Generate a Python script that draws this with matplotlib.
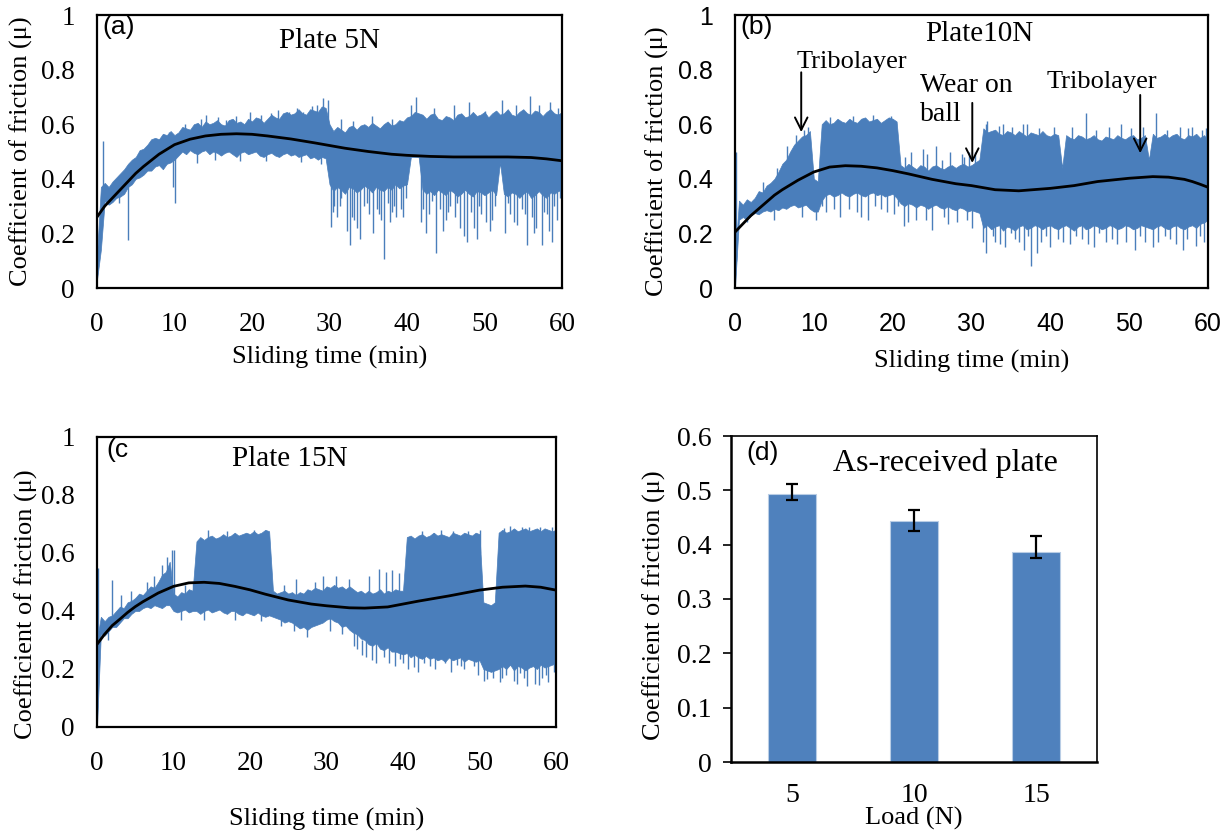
import matplotlib
matplotlib.use("Agg")
import matplotlib.pyplot as plt

W, H = 1231, 834
BLUE = "#4a7ebb"
BAR_BLUE = "#4f81bd"
SERIF = "Liberation Serif"
SANS = "Liberation Sans"
plt.rcParams["font.family"] = SERIF

# Friction traces are stored as the min / max of the signal in each
# half-minute bin (0, 0.5, ..., 60 min), plus isolated excursions.
t_bins = [i * 0.5 for i in range(121)]

# ---------------- (a) Plate 5 N ----------------
a_hi = [0.12, 0.37, 0.385, 0.37, 0.39, 0.405, 0.42, 0.435, 0.455, 0.47,
        0.48, 0.505, 0.51, 0.525, 0.545, 0.55, 0.545, 0.565, 0.56, 0.575,
        0.56, 0.57, 0.59, 0.585, 0.58, 0.60, 0.605, 0.59, 0.61, 0.60,
        0.605, 0.615, 0.60, 0.595, 0.615, 0.62, 0.605, 0.61, 0.60, 0.62,
        0.61, 0.625, 0.62, 0.605, 0.62, 0.635, 0.625, 0.62, 0.64, 0.645,
        0.635, 0.64, 0.655, 0.64, 0.635, 0.655, 0.65, 0.645, 0.665, 0.66,
        0.60, 0.575, 0.59, 0.58, 0.57, 0.59, 0.595, 0.58, 0.595, 0.60,
        0.59, 0.605, 0.595, 0.585, 0.60, 0.61, 0.595, 0.60, 0.615, 0.61,
        0.625, 0.63, 0.645, 0.64, 0.635, 0.62, 0.635, 0.64, 0.62, 0.615,
        0.63, 0.625, 0.615, 0.635, 0.64, 0.625, 0.63, 0.645, 0.63, 0.635,
        0.645, 0.625, 0.64, 0.65, 0.635, 0.64, 0.655, 0.635, 0.63, 0.645,
        0.655, 0.64, 0.635, 0.65, 0.645, 0.63, 0.645, 0.655, 0.64, 0.635,
        0.645]
a_lo = [0.03, 0.14, 0.32, 0.305, 0.315, 0.33, 0.335, 0.345, 0.37, 0.38,
        0.40, 0.405, 0.415, 0.43, 0.43, 0.445, 0.45, 0.435, 0.455, 0.46,
        0.47, 0.485, 0.50, 0.49, 0.505, 0.495, 0.49, 0.50, 0.505, 0.49,
        0.50, 0.495, 0.485, 0.495, 0.50, 0.49, 0.48, 0.495, 0.50, 0.49,
        0.495, 0.50, 0.485, 0.48, 0.49, 0.495, 0.485, 0.48, 0.49, 0.495,
        0.485, 0.49, 0.48, 0.485, 0.49, 0.475, 0.48, 0.47, 0.48, 0.475,
        0.38, 0.355, 0.37, 0.36, 0.345, 0.37, 0.365, 0.35, 0.36, 0.375,
        0.365, 0.35, 0.37, 0.36, 0.355, 0.37, 0.36, 0.38, 0.365, 0.375,
        0.38, 0.48, 0.48, 0.48, 0.36, 0.345, 0.355, 0.34, 0.36, 0.35,
        0.34, 0.36, 0.35, 0.335, 0.345, 0.36, 0.345, 0.335, 0.355, 0.35,
        0.34, 0.35, 0.36, 0.34, 0.46, 0.345, 0.335, 0.35, 0.345, 0.33,
        0.345, 0.355, 0.33, 0.34, 0.355, 0.34, 0.33, 0.35, 0.345, 0.355,
        0.36]
# (time, low, high) of isolated excursions
a_spikes = [
    (0.8, 0.30, 0.54), (2.8, 0.31, 0.38), (4.0, 0.175, 0.40), (9.3, 0.50, 0.57),
    (9.8, 0.37, 0.50), (10.1, 0.31, 0.50), (11.3, 0.55, 0.60), (12.9, 0.457, 0.52),
    (13.4, 0.55, 0.62), (14.1, 0.55, 0.633), (15.2, 0.47, 0.52), (15.6, 0.55, 0.625),
    (16.7, 0.55, 0.615), (17.9, 0.55, 0.63), (18.4, 0.465, 0.52), (19.7, 0.55, 0.646),
    (21.2, 0.55, 0.635), (21.8, 0.465, 0.52), (22.5, 0.55, 0.64), (23.4, 0.55, 0.652),
    (24.8, 0.55, 0.645), (25.8, 0.55, 0.66), (26.3, 0.46, 0.52), (26.6, 0.55, 0.646),
    (27.7, 0.55, 0.665), (28.4, 0.55, 0.67), (28.9, 0.455, 0.52),
    (29.2, 0.55, 0.695), (29.8, 0.55, 0.69),
    (30.2, 0.225, 0.5), (30.4, 0.28, 0.5), (30.6, 0.30, 0.5), (31.0, 0.26, 0.5),
    (31.3, 0.30, 0.5), (31.5, 0.33, 0.5), (32.2, 0.21, 0.5), (32.6, 0.157, 0.5),
    (32.9, 0.26, 0.5), (33.1, 0.25, 0.5), (33.5, 0.22, 0.5), (33.9, 0.18, 0.5),
    (34.5, 0.30, 0.5), (34.8, 0.31, 0.5), (35.1, 0.27, 0.5), (35.6, 0.20, 0.5),
    (36.1, 0.29, 0.5), (36.4, 0.27, 0.5), (36.6, 0.25, 0.5), (37.0, 0.108, 0.5),
    (37.5, 0.31, 0.5), (37.8, 0.24, 0.5), (38.0, 0.28, 0.5), (38.3, 0.30, 0.5),
    (38.6, 0.26, 0.5), (39.2, 0.29, 0.5), (39.5, 0.26, 0.5), (39.9, 0.33, 0.5),
    (41.8, 0.24, 0.5), (42.1, 0.29, 0.5), (42.4, 0.20, 0.5), (42.9, 0.27, 0.5),
    (43.2, 0.32, 0.5), (43.8, 0.127, 0.5), (44.3, 0.29, 0.5), (44.7, 0.21, 0.5),
    (45.0, 0.25, 0.5), (45.3, 0.28, 0.5), (45.6, 0.30, 0.5), (46.2, 0.26, 0.5),
    (46.5, 0.31, 0.5), (46.8, 0.22, 0.5), (47.4, 0.19, 0.5), (47.7, 0.17, 0.5),
    (48.3, 0.28, 0.5), (48.6, 0.22, 0.5), (49.0, 0.18, 0.5), (49.3, 0.30, 0.5),
    (49.6, 0.27, 0.5), (50.2, 0.24, 0.5), (50.7, 0.21, 0.5), (51.0, 0.25, 0.5),
    (51.3, 0.30, 0.5), (52.7, 0.20, 0.5), (53.0, 0.31, 0.5), (53.3, 0.27, 0.5),
    (53.8, 0.24, 0.5), (54.2, 0.23, 0.5), (54.8, 0.29, 0.5), (55.2, 0.27, 0.5),
    (55.5, 0.157, 0.5), (56.1, 0.26, 0.5), (56.4, 0.20, 0.5), (56.7, 0.22, 0.5),
    (57.4, 0.157, 0.5), (57.7, 0.28, 0.5), (58.0, 0.27, 0.5), (58.3, 0.21, 0.5),
    (58.7, 0.17, 0.5), (59.0, 0.30, 0.5), (59.3, 0.25, 0.5), (59.8, 0.33, 0.5),
    (31.5, 0.55, 0.62), (33.0, 0.55, 0.61), (35.5, 0.55, 0.63), (38.0, 0.55, 0.62),
    (40.5, 0.55, 0.67), (41.2, 0.55, 0.70), (43.5, 0.55, 0.66), (46.0, 0.55, 0.67),
    (48.0, 0.55, 0.68), (50.0, 0.55, 0.65), (52.3, 0.55, 0.69), (54.0, 0.55, 0.67),
    (55.9, 0.55, 0.705), (57.0, 0.55, 0.67), (58.5, 0.55, 0.68), (59.5, 0.55, 0.66),
]
a_fit_t = [0, 1, 2, 3, 4, 5, 6, 8, 10, 12, 14, 16, 18, 20, 22, 25, 28, 30, 32,
           35, 38, 40, 43, 46, 50, 53, 56, 58, 60]
a_fit_mu = [0.26, 0.30, 0.33, 0.36, 0.39, 0.42, 0.445, 0.49, 0.525, 0.545, 0.557,
            0.563, 0.565, 0.563, 0.557, 0.546, 0.532, 0.522, 0.512, 0.50, 0.49,
            0.486, 0.482, 0.48, 0.48, 0.48, 0.478, 0.473, 0.466]

# ---------------- (b) Plate 10 N ----------------
b_hi = [0.10, 0.32, 0.305, 0.325, 0.315, 0.33, 0.355, 0.35, 0.375, 0.385,
        0.40, 0.425, 0.455, 0.47, 0.50, 0.525, 0.54, 0.555, 0.56, 0.575,
        0.40, 0.39, 0.60, 0.615, 0.60, 0.605, 0.62, 0.61, 0.605, 0.62,
        0.61, 0.605, 0.62, 0.625, 0.61, 0.615, 0.62, 0.605, 0.615, 0.625,
        0.62, 0.61, 0.45, 0.44, 0.455, 0.445, 0.435, 0.45, 0.445, 0.43,
        0.445, 0.45, 0.44, 0.435, 0.445, 0.45, 0.44, 0.45, 0.455, 0.445,
        0.45, 0.46, 0.47, 0.585, 0.57, 0.575, 0.58, 0.565, 0.56, 0.575,
        0.57, 0.56, 0.575, 0.565, 0.555, 0.57, 0.565, 0.56, 0.575, 0.56,
        0.555, 0.565, 0.56, 0.44, 0.56, 0.55, 0.545, 0.56, 0.555, 0.545,
        0.55, 0.56, 0.545, 0.54, 0.555, 0.55, 0.545, 0.56, 0.55, 0.545,
        0.555, 0.56, 0.545, 0.55, 0.56, 0.47, 0.565, 0.55, 0.555, 0.565,
        0.55, 0.56, 0.565, 0.55, 0.545, 0.56, 0.555, 0.565, 0.55, 0.56,
        0.54]
b_lo = [0.0, 0.25, 0.26, 0.25, 0.265, 0.275, 0.27, 0.28, 0.285, 0.28,
        0.29, 0.285, 0.295, 0.29, 0.30, 0.305, 0.295, 0.30, 0.305, 0.29,
        0.28, 0.28, 0.32, 0.34, 0.345, 0.335, 0.34, 0.35, 0.34, 0.335,
        0.345, 0.35, 0.34, 0.335, 0.345, 0.35, 0.34, 0.345, 0.335, 0.34,
        0.345, 0.33, 0.31, 0.30, 0.31, 0.305, 0.295, 0.305, 0.30, 0.29,
        0.30, 0.305, 0.295, 0.29, 0.30, 0.29, 0.285, 0.295, 0.29, 0.28,
        0.285, 0.28, 0.275, 0.22, 0.23, 0.215, 0.225, 0.23, 0.21, 0.225,
        0.22, 0.21, 0.225, 0.23, 0.215, 0.22, 0.23, 0.225, 0.215, 0.225,
        0.23, 0.22, 0.215, 0.225, 0.23, 0.22, 0.21, 0.225, 0.23, 0.215,
        0.22, 0.23, 0.225, 0.215, 0.22, 0.23, 0.225, 0.215, 0.22, 0.23,
        0.225, 0.215, 0.22, 0.23, 0.225, 0.22, 0.215, 0.225, 0.23, 0.22,
        0.215, 0.225, 0.23, 0.22, 0.215, 0.225, 0.23, 0.22, 0.235, 0.24,
        0.25]
b_spikes = [
    (0.15, 0.10, 0.50), (1.5, 0.24, 0.30), (3.5, 0.30, 0.39), (5.0, 0.25, 0.32),
    (5.3, 0.35, 0.44), (6.6, 0.40, 0.52), (7.7, 0.45, 0.56), (8.5, 0.26, 0.35),
    (8.7, 0.50, 0.58), (9.3, 0.50, 0.59), (10.3, 0.25, 0.32), (11.0, 0.30, 0.38),
    (11.5, 0.28, 0.38), (12.0, 0.55, 0.625), (12.6, 0.29, 0.38),
    (13.3, 0.26, 0.38), (14.5, 0.29, 0.38), (15.0, 0.55, 0.63),
    (15.5, 0.28, 0.38), (16.0, 0.26, 0.38), (16.9, 0.25, 0.38),
    (17.5, 0.55, 0.635), (17.8, 0.30, 0.38), (18.5, 0.29, 0.38),
    (19.3, 0.28, 0.38), (19.8, 0.55, 0.63), (20.2, 0.27, 0.38),
    (20.7, 0.30, 0.38), (21.5, 0.226, 0.33), (21.6, 0.40, 0.48),
    (22.0, 0.24, 0.33), (22.3, 0.40, 0.50), (23.0, 0.25, 0.33),
    (23.8, 0.40, 0.51), (24.2, 0.25, 0.33), (24.4, 0.40, 0.49),
    (25.0, 0.214, 0.33), (25.5, 0.40, 0.52), (26.2, 0.40, 0.47),
    (26.5, 0.26, 0.33), (27.0, 0.235, 0.33), (27.3, 0.40, 0.50),
    (28.2, 0.24, 0.33), (28.8, 0.40, 0.49), (29.0, 0.40, 0.48),
    (29.4, 0.25, 0.33), (29.7, 0.40, 0.50), (30.0, 0.22, 0.32),
    (30.5, 0.40, 0.50), (31.5, 0.17, 0.3), (31.8, 0.50, 0.60),
    (31.9, 0.13, 0.3), (32.0, 0.50, 0.61), (32.7, 0.19, 0.3), (33.0, 0.17, 0.3),
    (33.5, 0.50, 0.595), (33.6, 0.16, 0.3), (34.0, 0.50, 0.60),
    (34.3, 0.15, 0.3), (35.0, 0.20, 0.3), (35.2, 0.50, 0.59), (35.5, 0.18, 0.3),
    (36.0, 0.17, 0.3), (36.5, 0.50, 0.60), (36.6, 0.14, 0.3), (37.0, 0.50, 0.60),
    (37.2, 0.19, 0.3), (37.6, 0.08, 0.3), (38.3, 0.13, 0.3), (38.5, 0.50, 0.585),
    (38.8, 0.17, 0.3), (39.4, 0.19, 0.3), (40.0, 0.15, 0.3), (40.5, 0.50, 0.59),
    (41.0, 0.18, 0.3), (41.6, 0.17, 0.3), (42.5, 0.16, 0.3), (42.8, 0.50, 0.59),
    (43.3, 0.19, 0.3), (44.0, 0.18, 0.3), (44.5, 0.50, 0.64), (44.8, 0.16, 0.3),
    (45.5, 0.15, 0.3), (45.8, 0.50, 0.58), (46.2, 0.20, 0.3), (47.0, 0.17, 0.3),
    (47.5, 0.50, 0.59), (47.8, 0.18, 0.3), (48.5, 0.16, 0.3), (49.0, 0.50, 0.60),
    (49.6, 0.17, 0.3), (50.2, 0.50, 0.585), (50.8, 0.14, 0.3), (51.4, 0.19, 0.3),
    (51.8, 0.50, 0.59), (52.0, 0.17, 0.3), (53.0, 0.15, 0.3), (53.4, 0.50, 0.64),
    (53.7, 0.17, 0.3), (54.5, 0.19, 0.3), (54.8, 0.50, 0.58), (55.2, 0.18, 0.3),
    (56.0, 0.16, 0.3), (56.5, 0.50, 0.59), (56.8, 0.14, 0.3), (57.3, 0.18, 0.3),
    (57.5, 0.50, 0.585), (58.0, 0.50, 0.59), (58.5, 0.155, 0.3),
    (59.0, 0.19, 0.3), (59.2, 0.50, 0.58), (59.5, 0.17, 0.3), (59.7, 0.50, 0.585),
]
b_fit_t = [0, 1, 2, 3, 4, 5, 6, 8, 10, 12, 14, 16, 18, 20, 22, 25, 28, 30, 33,
           36, 40, 43, 46, 50, 53, 55, 57, 58, 59, 60]
b_fit_mu = [0.205, 0.235, 0.265, 0.29, 0.315, 0.34, 0.36, 0.395, 0.425, 0.443,
            0.448, 0.446, 0.44, 0.43, 0.418, 0.398, 0.382, 0.375, 0.36, 0.356,
            0.365, 0.375, 0.39, 0.402, 0.408, 0.406, 0.398, 0.39, 0.38, 0.369]

# ---------------- (c) Plate 15 N ----------------
c_hi = [0.30, 0.38, 0.365, 0.38, 0.385, 0.40, 0.415, 0.41, 0.43, 0.435,
        0.445, 0.46, 0.455, 0.47, 0.485, 0.48, 0.50, 0.525, 0.535, 0.57,
        0.46, 0.45, 0.465, 0.46, 0.475, 0.47, 0.64, 0.655, 0.645, 0.655,
        0.66, 0.65, 0.655, 0.665, 0.655, 0.66, 0.67, 0.66, 0.665, 0.67,
        0.665, 0.675, 0.665, 0.67, 0.68, 0.675, 0.47, 0.46, 0.465, 0.47,
        0.46, 0.465, 0.455, 0.465, 0.46, 0.475, 0.47, 0.48, 0.475, 0.47,
        0.485, 0.48, 0.49, 0.48, 0.485, 0.475, 0.485, 0.475, 0.465, 0.47,
        0.46, 0.47, 0.46, 0.465, 0.475, 0.46, 0.47, 0.465, 0.475, 0.47,
        0.47, 0.655, 0.66, 0.65, 0.66, 0.665, 0.655, 0.66, 0.67, 0.66,
        0.665, 0.66, 0.655, 0.67, 0.665, 0.66, 0.67, 0.665, 0.66, 0.67,
        0.665, 0.43, 0.425, 0.42, 0.43, 0.67, 0.68, 0.67, 0.675, 0.685,
        0.675, 0.68, 0.685, 0.675, 0.68, 0.685, 0.675, 0.685, 0.68, 0.675,
        0.68]
c_lo = [0.0, 0.32, 0.315, 0.33, 0.345, 0.345, 0.36, 0.375, 0.375, 0.39,
        0.40, 0.40, 0.41, 0.415, 0.41, 0.42, 0.415, 0.41, 0.42, 0.42,
        0.40, 0.395, 0.40, 0.405, 0.395, 0.40, 0.40, 0.39, 0.40, 0.405,
        0.395, 0.40, 0.405, 0.395, 0.39, 0.40, 0.40, 0.39, 0.385, 0.395,
        0.39, 0.385, 0.395, 0.385, 0.38, 0.385, 0.38, 0.375, 0.37, 0.36,
        0.365, 0.36, 0.35, 0.34, 0.345, 0.335, 0.345, 0.35, 0.355, 0.36,
        0.37, 0.375, 0.365, 0.36, 0.345, 0.35, 0.335, 0.325, 0.32, 0.305,
        0.30, 0.285, 0.28, 0.29, 0.27, 0.265, 0.275, 0.26, 0.26, 0.255,
        0.25, 0.255, 0.24, 0.25, 0.24, 0.235, 0.245, 0.235, 0.24, 0.23,
        0.235, 0.225, 0.24, 0.23, 0.235, 0.24, 0.225, 0.235, 0.23, 0.225,
        0.23, 0.20, 0.195, 0.19, 0.195, 0.20, 0.21, 0.20, 0.215, 0.195,
        0.21, 0.205, 0.195, 0.205, 0.21, 0.20, 0.215, 0.205, 0.21, 0.215,
        0.22]
c_spikes = [
    (0.1, 0.30, 0.547), (1.5, 0.30, 0.34), (2.0, 0.38, 0.506), (3.2, 0.40, 0.455),
    (4.5, 0.42, 0.47), (6.5, 0.45, 0.50), (7.5, 0.46, 0.52), (8.5, 0.50, 0.56),
    (9.2, 0.52, 0.585), (9.8, 0.44, 0.612), (10.1, 0.44, 0.61), (11.0, 0.37, 0.41),
    (11.5, 0.45, 0.49), (12.5, 0.45, 0.50), (14.0, 0.37, 0.41), (14.5, 0.60, 0.68),
    (17.0, 0.60, 0.675), (18.0, 0.37, 0.41), (20.5, 0.60, 0.68), (21.5, 0.365, 0.40),
    (24.0, 0.35, 0.39), (24.5, 0.45, 0.49), (25.8, 0.33, 0.38), (26.0, 0.45, 0.51),
    (27.5, 0.311, 0.37), (28.5, 0.45, 0.50), (29.6, 0.45, 0.52), (30.5, 0.33, 0.38),
    (31.2, 0.46, 0.52), (32.0, 0.32, 0.36), (33.0, 0.45, 0.51), (33.6, 0.28, 0.33),
    (34.0, 0.27, 0.33), (34.6, 0.25, 0.3), (35.2, 0.24, 0.3), (35.5, 0.45, 0.52),
    (36.0, 0.23, 0.3), (36.5, 0.22, 0.3), (36.8, 0.45, 0.545), (37.5, 0.24, 0.3),
    (37.8, 0.45, 0.535), (38.2, 0.22, 0.3), (38.6, 0.45, 0.54), (39.0, 0.21, 0.3),
    (39.5, 0.45, 0.53), (39.6, 0.235, 0.3), (40.0, 0.22, 0.3), (40.6, 0.20, 0.3),
    (41.4, 0.208, 0.3), (42.0, 0.19, 0.3), (42.5, 0.60, 0.675), (42.8, 0.22, 0.3),
    (43.5, 0.21, 0.3), (44.0, 0.60, 0.67), (44.2, 0.20, 0.3), (45.0, 0.60, 0.68),
    (45.5, 0.22, 0.3), (46.3, 0.19, 0.3), (46.5, 0.60, 0.675), (47.0, 0.215, 0.3),
    (47.6, 0.21, 0.3), (48.0, 0.20, 0.3), (48.5, 0.60, 0.675), (49.3, 0.21, 0.3),
    (49.8, 0.18, 0.3), (50.0, 0.60, 0.68), (50.6, 0.16, 0.25), (51.0, 0.165, 0.25),
    (51.8, 0.17, 0.25), (52.7, 0.155, 0.25), (53.0, 0.17, 0.3), (53.2, 0.60, 0.685),
    (53.5, 0.18, 0.3), (54.0, 0.60, 0.693), (54.5, 0.16, 0.3), (54.9, 0.15, 0.3),
    (55.3, 0.185, 0.3), (55.5, 0.60, 0.69), (55.8, 0.17, 0.3), (56.2, 0.14, 0.3),
    (56.5, 0.60, 0.69), (57.3, 0.15, 0.3), (57.8, 0.145, 0.3), (57.9, 0.60, 0.69),
    (58.2, 0.17, 0.3), (58.7, 0.18, 0.3), (59.0, 0.155, 0.3), (59.5, 0.60, 0.69),
    (59.8, 0.19, 0.3),
]
c_fit_t = [0, 1, 2, 3, 4, 5, 6, 8, 10, 12, 14, 16, 18, 20, 22, 25, 28, 30, 33,
           35, 38, 42, 46, 50, 53, 56, 58, 60]
c_fit_mu = [0.285, 0.32, 0.35, 0.372, 0.395, 0.415, 0.432, 0.462, 0.485, 0.497,
            0.499, 0.495, 0.485, 0.473, 0.458, 0.438, 0.424, 0.418, 0.411, 0.41,
            0.414, 0.434, 0.452, 0.472, 0.482, 0.486, 0.482, 0.472]

# ---------------- (d) mean friction vs load ----------------
loads = ["5", "10", "15"]
mean_mu = [0.493, 0.444, 0.386]
err_low = [0.011, 0.019, 0.0105]
err_high = [0.018, 0.020, 0.0305]

time_ticks = [0, 10, 20, 30, 40, 50, 60]
mu_ticks = [0, 0.2, 0.4, 0.6, 0.8, 1.0]
mu_ticklabels = ["0", "0.2", "0.4", "0.6", "0.8", "1"]
bar_ticks = [0, 0.1, 0.2, 0.3, 0.4, 0.5, 0.6]
bar_ticklabels = ["0", "0.1", "0.2", "0.3", "0.4", "0.5", "0.6"]

FS_LAB = 19
FS_TITLE = 21
fig = plt.figure(figsize=(W / 100, H / 100), dpi=100)


def rect(x0, y0, x1, y1):
    return [x0 / W, 1 - y1 / H, (x1 - x0) / W, (y1 - y0) / H]


def friction_panel(box, hi, lo, spikes, ft, fmu, tag, title, title_xy,
                   ylab_xy, xlab_y, tick_font, tick_size, tag_x=0.011):
    ax = fig.add_axes(rect(*box))
    ax.fill_between(t_bins, lo, hi, color=BLUE, lw=0.5, edgecolor=BLUE)
    st, slo, shi = zip(*spikes)
    ax.vlines(st, slo, shi, color=BLUE, lw=1.0)
    ax.plot(ft, fmu, color="black", lw=2.0)
    ax.set_xlim(0, 60)
    ax.set_ylim(0, 1)
    ax.set_xticks(time_ticks)
    ax.set_yticks(mu_ticks)
    ax.set_yticklabels(mu_ticklabels)
    ax.tick_params(length=0, labelsize=tick_size)
    ax.tick_params(axis="x", pad=17)
    ax.tick_params(axis="y", pad=16)
    for lab in ax.get_xticklabels() + ax.get_yticklabels():
        lab.set_family(tick_font)
    for s in ax.spines.values():
        s.set_linewidth(1.6)
        s.set_color("black")
    ax.set_xlabel("Sliding time (min)", fontsize=FS_LAB)
    ax.xaxis.set_label_coords(0.5, xlab_y)
    ax.xaxis.label.set_va("center")
    ax.set_ylabel("Coefficient of friction (\u03bc)", fontsize=FS_LAB)
    ax.yaxis.set_label_coords(*ylab_xy)
    ax.yaxis.label.set_va("center")
    ax.text(tag_x, 0.955, tag, transform=ax.transAxes, fontsize=FS_LAB,
            family=SANS, ha="left", va="center")
    ax.text(*title_xy, title, transform=ax.transAxes, fontsize=FS_TITLE,
            ha="center", va="center")
    return ax


ax_a = friction_panel((97, 15, 562, 288), a_hi, a_lo, a_spikes, a_fit_t,
                      a_fit_mu, "(a)", "Plate 5N", (0.50, 0.905),
                      (-0.162, 0.5), -0.256, SERIF, 19.5)
ax_b = friction_panel((735, 15, 1208, 288), b_hi, b_lo, b_spikes, b_fit_t,
                      b_fit_mu, "(b)", "Plate10N", (0.516, 0.93),
                      (-0.165, 0.465), -0.27, SANS, 18)
ax_c = friction_panel((97, 437, 556, 727), c_hi, c_lo, c_spikes, c_fit_t,
                      c_fit_mu, "(c", "Plate 15N", (0.42, 0.925),
                      (-0.153, 0.424), -0.32, SERIF, 19.5, tag_x=0.02)

# annotations on (b)
arrow = dict(arrowstyle="->,head_length=0.9,head_width=0.45", color="black",
             lw=1.4, shrinkA=0, shrinkB=0)
ax_b.text(14.8, 0.828, "Tribolayer", fontsize=FS_LAB, ha="center", va="center")
ax_b.annotate("", xy=(8.4, 0.571), xytext=(8.4, 0.79), arrowprops=arrow)
ax_b.text(23.5, 0.69, "Wear on\nball", fontsize=20, ha="left", va="center",
          linespacing=1.2)
ax_b.annotate("", xy=(30.1, 0.458), xytext=(30.1, 0.678), arrowprops=arrow)
ax_b.text(46.6, 0.755, "Tribolayer", fontsize=FS_LAB, ha="center", va="center")
ax_b.annotate("", xy=(51.4, 0.494), xytext=(51.4, 0.707), arrowprops=arrow)

# ---------------- (d) bars ----------------
ax_d = fig.add_axes(rect(731, 436, 1097, 762))
xs = range(len(loads))
ax_d.bar(xs, mean_mu, width=0.4, color=BAR_BLUE, edgecolor="#b9cde5", lw=0.8,
         yerr=[err_low, err_high], capsize=4,
         error_kw=dict(ecolor="black", elinewidth=1.6, capthick=1.6))
ax_d.set_xlim(-0.5, 2.5)
ax_d.set_ylim(0, 0.6)
ax_d.set_xticks(list(xs))
ax_d.set_xticklabels(loads)
ax_d.set_yticks(bar_ticks)
ax_d.set_yticklabels(bar_ticklabels)
ax_d.tick_params(axis="x", length=0, pad=15, labelsize=20)
ax_d.tick_params(axis="y", length=6, width=1.2, pad=8, labelsize=20)
for side in ("left", "bottom"):
    ax_d.spines[side].set_linewidth(1.8)
for side in ("top", "right"):
    ax_d.spines[side].set_linewidth(1.2)
ax_d.set_xlabel("Load (N)", fontsize=FS_LAB)
ax_d.xaxis.set_label_coords(0.5, -0.172)
ax_d.xaxis.label.set_va("center")
ax_d.set_ylabel("Coefficient of friction (\u03bc)", fontsize=FS_LAB)
ax_d.yaxis.set_label_coords(-0.21, 0.48)
ax_d.yaxis.label.set_va("center")
ax_d.text(0.043, 0.948, "(d)", transform=ax_d.transAxes, fontsize=FS_LAB,
          family=SANS, ha="left", va="center")
ax_d.text(0.586, 0.917, "As-received plate", transform=ax_d.transAxes,
          fontsize=23, ha="center", va="center")

fig.savefig("out.png", dpi=100)
